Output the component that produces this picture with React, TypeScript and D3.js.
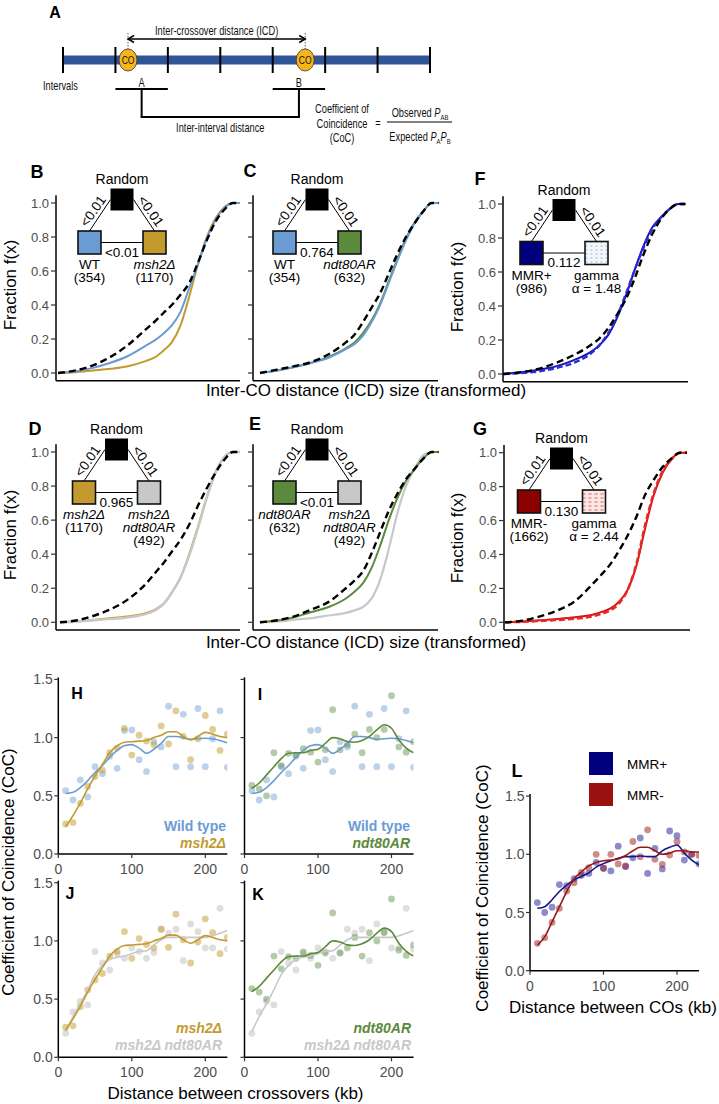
import React from 'react';
import * as d3 from 'd3';

const FONT = "'Liberation Sans', Arial, Helvetica, sans-serif";
const W = 719;
const H = 1104;

// ---------- Panel A schematic ----------
const intervalBounds = [0, 1, 2, 3, 4, 5, 6, 7];
const coPositions = [1.24, 4.62];
const intervalPairs = [
  { label: 'A', from: 1, to: 2 },
  { label: 'B', from: 4, to: 5 },
];

// ---------- CDF panels (B-G) ----------
const cdfX = [0, 10, 20, 30, 40, 50, 55, 60, 65, 70, 75, 80, 85, 90, 95, 100, 104];
const cdfTicks = [0, 0.2, 0.4, 0.6, 0.8, 1.0];

const randomB = [0, 0.015, 0.045, 0.095, 0.165, 0.255, 0.3, 0.35, 0.4, 0.46, 0.53, 0.65, 0.78, 0.89, 0.96, 1, 1];
const wtB = [0, 0.01, 0.03, 0.06, 0.1, 0.16, 0.19, 0.23, 0.28, 0.36, 0.5, 0.64, 0.79, 0.9, 0.97, 1, 1];
const msh2B = [0, 0.005, 0.015, 0.025, 0.04, 0.07, 0.09, 0.13, 0.18, 0.28, 0.45, 0.64, 0.8, 0.91, 0.975, 1, 1];

const randomC = [0, 0.02, 0.04, 0.065, 0.11, 0.18, 0.225, 0.3, 0.385, 0.47, 0.585, 0.7, 0.8, 0.88, 0.95, 1, 1];
const wtC = [0, 0.015, 0.035, 0.06, 0.09, 0.14, 0.17, 0.22, 0.3, 0.4, 0.53, 0.66, 0.78, 0.88, 0.95, 1, 1];
const ndtC = [0, 0.015, 0.035, 0.06, 0.095, 0.145, 0.18, 0.235, 0.31, 0.41, 0.54, 0.67, 0.79, 0.885, 0.95, 1, 1];

const randomF = [0, 0.01, 0.03, 0.065, 0.11, 0.17, 0.21, 0.27, 0.35, 0.44, 0.56, 0.7, 0.82, 0.91, 0.97, 1, 1];
const mmrPlusF = [0, 0.01, 0.025, 0.045, 0.08, 0.13, 0.17, 0.23, 0.33, 0.46, 0.61, 0.75, 0.86, 0.92, 0.97, 1, 1];
const gammaF = [0, 0.005, 0.015, 0.035, 0.065, 0.12, 0.17, 0.24, 0.34, 0.47, 0.61, 0.74, 0.85, 0.92, 0.97, 1, 1];

const randomD = [0, 0.012, 0.04, 0.08, 0.14, 0.23, 0.29, 0.35, 0.42, 0.49, 0.58, 0.69, 0.79, 0.88, 0.955, 1, 1];
const msh2D = [0, 0.006, 0.015, 0.025, 0.035, 0.055, 0.075, 0.11, 0.18, 0.27, 0.41, 0.57, 0.74, 0.885, 0.97, 1, 1];
const dblD = [0, 0.005, 0.012, 0.02, 0.03, 0.05, 0.07, 0.11, 0.18, 0.27, 0.4, 0.56, 0.735, 0.88, 0.97, 1, 1];

const randomE = [0, 0.012, 0.035, 0.075, 0.12, 0.2, 0.245, 0.3, 0.405, 0.53, 0.655, 0.755, 0.84, 0.9, 0.96, 1, 1];
const ndtE = [0, 0.01, 0.03, 0.06, 0.09, 0.14, 0.18, 0.23, 0.32, 0.45, 0.6, 0.73, 0.83, 0.9, 0.96, 1, 1];
const dblE = [0, 0.005, 0.015, 0.025, 0.04, 0.055, 0.07, 0.09, 0.14, 0.25, 0.43, 0.64, 0.8, 0.9, 0.98, 1, 1];

const randomG = [0, 0.01, 0.035, 0.07, 0.125, 0.225, 0.28, 0.34, 0.42, 0.51, 0.62, 0.75, 0.84, 0.915, 0.965, 1, 1];
const mmrMinusG = [0, 0.005, 0.012, 0.02, 0.03, 0.045, 0.06, 0.08, 0.12, 0.19, 0.33, 0.55, 0.75, 0.88, 0.96, 1, 1];
const gammaG = [0, 0.003, 0.008, 0.014, 0.022, 0.035, 0.05, 0.07, 0.11, 0.19, 0.34, 0.57, 0.76, 0.89, 0.96, 1, 1];

// ---------- CoC panels (H-L) ----------
const cocX = [10, 20, 30, 40, 50, 60, 70, 80, 90, 100, 110, 120, 130, 140, 150, 160, 170, 180, 190, 200, 210, 220, 230];
const cocYTicks = [0, 0.5, 1.0, 1.5];
const cocXTicks = [0, 100, 200];

const wtPts = [0.544, 0.464, 0.636, 0.49, 0.75, 0.69, 0.84, 0.736, 1.06, 1.066, 0.81, 0.708, 0.965, 0.92, 1.27, 0.75, 1.2, 0.75, 1.25, 0.75, 0.99, 1.23, 0.745];
const wtLine = [0.52, 0.53, 0.57, 0.63, 0.7, 0.76, 0.83, 0.89, 0.93, 0.94, 0.91, 0.865, 0.9, 0.95, 1.01, 1.01, 1.0, 0.985, 0.99, 0.995, 0.99, 0.975, 0.955];
const msh2Pts = [0.258, 0.27, 0.435, 0.58, 0.665, 0.72, 0.87, 0.91, 1.08, 0.85, 1.02, 0.97, 0.94, 1.1, 0.945, 1.23, 1.01, 0.81, 0.99, 1.19, 1.07, 0.89, 1.03];
const msh2Line = [0.235, 0.33, 0.44, 0.56, 0.67, 0.77, 0.87, 0.93, 0.96, 0.965, 0.97, 0.975, 1.0, 1.02, 1.05, 1.05, 1.01, 0.98, 1.01, 1.045, 1.03, 1.01, 1.0];
const ndtPts = [0.59, 0.56, 0.5, 0.87, 0.76, 0.865, 0.85, 0.905, 0.875, 0.79, 0.895, 1.24, 0.895, 0.94, 1.03, 0.87, 1.07, 1.0, 1.07, 1.36, 0.92, 0.875, 0.965];
const ndtLine = [0.565, 0.61, 0.68, 0.75, 0.82, 0.865, 0.87, 0.87, 0.89, 0.9, 0.95, 1.0, 0.99, 0.966, 0.96, 0.975, 1.01, 1.066, 1.11, 1.08, 0.98, 0.91, 0.87];
const dblPts = [0.206, 0.39, 0.48, 0.45, 0.908, 0.81, 0.75, 0.89, 0.85, 0.94, 0.91, 0.85, 0.9, 1.1, 1.066, 1.1, 0.83, 1.146, 1.08, 0.94, 0.94, 1.28, 0.93];
const dblLine = [0.22, 0.35, 0.46, 0.58, 0.71, 0.79, 0.84, 0.86, 0.87, 0.89, 0.91, 0.915, 0.965, 1.01, 1.03, 1.03, 1.03, 1.03, 1.03, 1.03, 1.045, 1.066, 1.09];
const mmrPlusPts = [0.585, 0.5, 0.545, 0.74, 0.73, 0.79, 0.82, 0.836, 0.93, 0.88, 0.857, 1.07, 0.894, 0.97, 1.14, 0.836, 1.05, 0.874, 1.2, 1.16, 0.95, 1.0, 0.917];
const mmrPlusLine = [0.536, 0.55, 0.61, 0.68, 0.736, 0.78, 0.81, 0.84, 0.89, 0.92, 0.945, 0.966, 0.98, 0.98, 0.986, 0.98, 0.98, 1.03, 1.06, 1.08, 1.01, 0.95, 0.91];
const mmrMinusPts = [0.235, 0.284, 0.415, 0.536, 0.685, 0.756, 0.845, 0.885, 1.0, 0.88, 1.0, 0.917, 0.9, 1.11, 0.98, 1.21, 0.957, 0.914, 0.994, 1.11, 1.02, 1.0, 0.99];
const mmrMinusLine = [0.22, 0.29, 0.42, 0.55, 0.68, 0.79, 0.85, 0.9, 0.93, 0.945, 0.95, 0.96, 0.99, 1.03, 1.06, 1.06, 1.03, 1.0, 1.01, 1.03, 1.03, 1.02, 1.02];

// ---------- colours ----------
const C_WT = '#6A9BD3';
const C_MSH = '#C39A2E';
const C_NDT = '#5B8A3C';
const C_DBL = '#C8C8C8';
const C_MMRP = '#00007F';
const C_MMRM = '#8B0000';
const TICK_GREY = '#4D4D4D';

function NarrowText({ x, y, anchor = 'middle', size = 12.5, children }: any) {
  return (
    <text transform={`translate(${x},${y}) scale(0.74,1)`} textAnchor={anchor} fontSize={size} fill="#111">
      {children}
    </text>
  );
}

function PanelA() {
  const xs = d3.scaleLinear().domain([0, 7]).range([63, 430]);
  const barY = 60;
  const arrowY = 39;
  const a0 = xs(coPositions[0]);
  const a1 = xs(coPositions[1]);
  const bracketY = 89;
  const joinY = 117;
  const mids = intervalPairs.map((p) => xs((p.from + p.to) / 2));
  return (
    <g>
      <text x={55} y={18} fontWeight="bold" fontSize={16} textAnchor="middle">A</text>
      <rect x={xs(0)} y={barY - 4.5} width={xs(7) - xs(0)} height={9} fill="#2F5597" />
      {intervalBounds.map((b) => (
        <line key={b} x1={xs(b)} x2={xs(b)} y1={47} y2={73} stroke="#000" strokeWidth={2} />
      ))}
      {coPositions.map((c, i) => (
        <g key={i}>
          <line x1={xs(c)} x2={xs(c)} y1={33} y2={49} stroke="#333" strokeWidth={0.8} strokeDasharray="1.5 1.5" />
          <ellipse cx={xs(c)} cy={barY} rx={9} ry={11} fill="#F7B519" stroke="#333" strokeWidth={0.8} />
          <NarrowText x={xs(c)} y={barY + 4} size={11.5}>CO</NarrowText>
        </g>
      ))}
      <line x1={a0} x2={a1} y1={arrowY} y2={arrowY} stroke="#000" strokeWidth={1.5} />
      <path d={`M${a0 + 6},${arrowY - 3.5} L${a0},${arrowY} L${a0 + 6},${arrowY + 3.5}`} fill="none" stroke="#000" strokeWidth={1.5} />
      <path d={`M${a1 - 6},${arrowY - 3.5} L${a1},${arrowY} L${a1 - 6},${arrowY + 3.5}`} fill="none" stroke="#000" strokeWidth={1.5} />
      <NarrowText x={(a0 + a1) / 2} y={35}>Inter-crossover distance (ICD)</NarrowText>
      <NarrowText x={43} y={90} anchor="start">Intervals</NarrowText>
      {intervalPairs.map((p, i) => (
        <g key={p.label}>
          <line x1={xs(p.from)} x2={xs(p.to)} y1={bracketY} y2={bracketY} stroke="#000" strokeWidth={2} />
          <line x1={mids[i]} x2={mids[i]} y1={bracketY} y2={joinY} stroke="#000" strokeWidth={2} />
          <NarrowText x={mids[i]} y={87}>{p.label}</NarrowText>
        </g>
      ))}
      <line x1={mids[0] - 1} x2={mids[1] + 1} y1={joinY} y2={joinY} stroke="#000" strokeWidth={2} />
      <NarrowText x={(mids[0] + mids[1]) / 2} y={132}>Inter-interval distance</NarrowText>
      <NarrowText x={342} y={113}>Coefficient of</NarrowText>
      <NarrowText x={342} y={127.5}>Coincidence</NarrowText>
      <NarrowText x={342} y={142}>(CoC)</NarrowText>
      <NarrowText x={378} y={127}>=</NarrowText>
      <NarrowText x={420} y={117}>
        Observed <tspan fontStyle="italic">P</tspan>
        <tspan fontSize={8} dy={3}>AB</tspan>
      </NarrowText>
      <line x1={387} x2={452} y1={122} y2={122} stroke="#000" strokeWidth={1} />
      <NarrowText x={420} y={141}>
        Expected <tspan fontStyle="italic">P</tspan>
        <tspan fontSize={8} dy={3}>A</tspan>
        <tspan fontStyle="italic" dy={-3}>P</tspan>
        <tspan fontSize={8} dy={3}>B</tspan>
      </NarrowText>
    </g>
  );
}

type Lbl = { t: string; i?: boolean };

function Inset({ bx, by, p, leftFill, rightFill, left, right }: any) {
  const s = 23;
  const lx = bx - 32.5;
  const rx = bx + 32.5;
  const ly = by + 43;
  const fs = 13.5;
  return (
    <g fontSize={fs}>
      <line x1={bx - s / 2} y1={by} x2={lx} y2={ly - s / 2} stroke="#000" strokeWidth={1} />
      <line x1={bx + s / 2} y1={by} x2={rx} y2={ly - s / 2} stroke="#000" strokeWidth={1} />
      <line x1={lx} y1={ly} x2={rx} y2={ly} stroke="#000" strokeWidth={1} />
      <rect x={bx - s / 2} y={by - s / 2 + 0.5} width={s} height={s - 1} fill="#000" />
      <rect x={lx - s / 2} y={ly - s / 2} width={s} height={s} fill={leftFill} stroke="#111" strokeWidth={1.6} />
      <rect x={rx - s / 2} y={ly - s / 2} width={s} height={s} fill={rightFill} stroke="#111" strokeWidth={1.6} />
      <text x={bx} y={by - 20} dy="0.35em" textAnchor="middle" fontSize={14}>Random</text>
      <text transform={`translate(${bx - 29},${by + 11.5}) rotate(-55)`} dy="0.35em" textAnchor="middle">&lt;0.01</text>
      <text transform={`translate(${bx + 29},${by + 11.5}) rotate(55)`} dy="0.35em" textAnchor="middle">&lt;0.01</text>
      <text x={bx} y={ly + 9.5} dy="0.35em" textAnchor="middle">{p}</text>
      {left.map((l: Lbl, i: number) => (
        <text key={i} x={lx} y={ly + 22 + 13 * i} dy="0.35em" textAnchor="middle" fontStyle={l.i ? 'italic' : 'normal'}>{l.t}</text>
      ))}
      {right.map((l: Lbl, i: number) => (
        <text key={i} x={rx} y={ly + 22 + 13 * i} dy="0.35em" textAnchor="middle" fontStyle={l.i ? 'italic' : 'normal'}>{l.t}</text>
      ))}
    </g>
  );
}

function CdfPanel({ cfg }: any) {
  const x = d3.scaleLinear().domain([0, 100]).range([cfg.cx0, cfg.cx1]);
  const y = d3.scaleLinear().domain([0, 1]).range([cfg.y0, cfg.y1]);
  const axisY = y(-0.045);
  const topY = y(1.045);
  const line = d3
    .line<number>()
    .x((_, i) => x(cdfX[i]))
    .y((v) => y(v))
    .curve(d3.curveMonotoneX);
  return (
    <g>
      {cfg.curves.map((c: any, i: number) => (
        <path key={i} d={line(c.values) || ''} fill="none" stroke={c.color} strokeWidth={c.width} strokeDasharray={c.dash || undefined} />
      ))}
      <line x1={cfg.ax} x2={cfg.ax} y1={topY} y2={axisY} stroke="#000" strokeWidth={1.5} />
      <line x1={cfg.ax} x2={cfg.axEnd} y1={axisY} y2={axisY} stroke="#000" strokeWidth={1.5} />
      {cdfTicks.map((t) => (
        <g key={t}>
          <line x1={cfg.ax - 5} x2={cfg.ax} y1={y(t)} y2={y(t)} stroke="#333" strokeWidth={1.2} />
          {cfg.tickLabels && (
            <text x={cfg.ax - 7} y={y(t)} dy="0.36em" textAnchor="end" fontSize={13} fill={TICK_GREY}>
              {t.toFixed(1)}
            </text>
          )}
        </g>
      ))}
      <text x={cfg.lx} y={cfg.ly} textAnchor="middle" fontWeight="bold" fontSize={18}>{cfg.label}</text>
      <Inset {...cfg.inset} />
    </g>
  );
}

function CocPanel({ cfg }: any) {
  const x = d3.scaleLinear().domain([0, 230]).range([cfg.x0, cfg.x0 + 230 * 0.735]);
  const y = d3.scaleLinear().domain([0, 1.5]).range([cfg.yb, cfg.yb - 1.5 * 116.4]);
  const line = d3
    .line<number>()
    .x((_, i) => x(cocX[i]))
    .y((v) => y(v))
    .curve(d3.curveMonotoneX);
  const clipId = `clip-${cfg.label}`;
  return (
    <g>
      <defs>
        <clipPath id={clipId}>
          <rect x={x(0)} y={y(1.5) - 8} width={x(230) - x(0)} height={y(0) - y(1.5) + 8} />
        </clipPath>
      </defs>
      <g clipPath={`url(#${clipId})`}>
        {cfg.series.map((s: any, si: number) =>
          s.pts.map((v: number, i: number) => (
            <circle key={`${si}-${i}`} cx={x(cocX[i])} cy={y(v)} r={3.4} fill={s.ptColor} fillOpacity={s.ptOpacity} />
          ))
        )}
        {cfg.series.map((s: any, si: number) => (
          <path key={si} d={line(s.line) || ''} fill="none" stroke={s.color} strokeWidth={1.6} />
        ))}
      </g>
      <line x1={x(0)} x2={x(0)} y1={y(1.5) - 2} y2={y(0)} stroke="#000" strokeWidth={1.5} />
      <line x1={x(0)} x2={x(230)} y1={y(0)} y2={y(0)} stroke="#000" strokeWidth={1.5} />
      {cocYTicks.map((t) => (
        <g key={t}>
          <line x1={x(0) - 4} x2={x(0)} y1={y(t)} y2={y(t)} stroke="#333" strokeWidth={1.2} />
          {cfg.yLabels && (
            <text x={x(0) - 5.5} y={y(t)} dy="0.36em" textAnchor="end" fontSize={14} fill={TICK_GREY}>
              {t.toFixed(1)}
            </text>
          )}
        </g>
      ))}
      {cocXTicks.map((t) => (
        <g key={t}>
          <line x1={x(t)} x2={x(t)} y1={y(0)} y2={y(0) + 4} stroke="#333" strokeWidth={1.2} />
          <text x={x(t)} y={y(0) + 15} dy="0.36em" textAnchor="middle" fontSize={14} fill={TICK_GREY}>
            {t}
          </text>
        </g>
      ))}
      <text x={cfg.lx} y={cfg.ly} textAnchor="middle" fontWeight="bold" fontSize={cfg.labelSize || 16}>{cfg.label}</text>
      {cfg.legend &&
        cfg.legend.map((l: any, i: number) => (
          <text key={i} x={cfg.legendX} y={cfg.legendY + 17 * i} textAnchor="end" fontWeight="bold" fontSize={14} fill={l.color} fontStyle={l.i ? 'italic' : 'normal'}>
            {l.t}
          </text>
        ))}
    </g>
  );
}

const dash = '7 4';

const cdfPanels = [
  {
    label: 'B', lx: 37, ly: 178, ax: 56, axEnd: 240, cx0: 58, cx1: 233, y0: 373, y1: 203, tickLabels: true,
    curves: [
      { values: msh2B, color: C_MSH, width: 2 },
      { values: wtB, color: C_WT, width: 2 },
      { values: randomB, color: '#000', width: 2.4, dash },
    ],
    inset: { bx: 122, by: 199.5, p: '<0.01', leftFill: C_WT, rightFill: C_MSH,
      left: [{ t: 'WT' }, { t: '(354)' }], right: [{ t: 'msh2Δ', i: true }, { t: '(1170)' }] },
  },
  {
    label: 'C', lx: 250, ly: 177, ax: 253, axEnd: 438, cx0: 260, cx1: 431.7, y0: 373, y1: 203, tickLabels: false,
    curves: [
      { values: ndtC, color: C_NDT, width: 2 },
      { values: wtC, color: C_WT, width: 2 },
      { values: randomC, color: '#000', width: 2.4, dash },
    ],
    inset: { bx: 317, by: 199.5, p: '0.764', leftFill: C_WT, rightFill: C_NDT,
      left: [{ t: 'WT' }, { t: '(354)' }], right: [{ t: 'ndt80AR', i: true }, { t: '(632)' }] },
  },
  {
    label: 'F', lx: 480, ly: 184.5, ax: 503, axEnd: 688, cx0: 503.3, cx1: 678.3, y0: 374, y1: 204, tickLabels: true,
    curves: [
      { values: mmrPlusF, color: '#1717A8', width: 2 },
      { values: gammaF, color: '#2B2BE0', width: 2.4, dash: '6 3' },
      { values: randomF, color: '#000', width: 2.4, dash },
    ],
    inset: { bx: 564, by: 210, p: '0.112', leftFill: C_MMRP, rightFill: 'url(#gammaBlue)',
      left: [{ t: 'MMR+' }, { t: '(986)' }], right: [{ t: 'gamma' }, { t: 'α = 1.48' }] },
  },
  {
    label: 'D', lx: 35, ly: 434.5, ax: 56, axEnd: 240, cx0: 60, cx1: 233, y0: 622.3, y1: 452, tickLabels: true,
    curves: [
      { values: msh2D, color: C_MSH, width: 2 },
      { values: dblD, color: C_DBL, width: 2.4 },
      { values: randomD, color: '#000', width: 2.4, dash },
    ],
    inset: { bx: 116.5, by: 449.5, p: '0.965', leftFill: C_MSH, rightFill: C_DBL,
      left: [{ t: 'msh2Δ', i: true }, { t: '(1170)' }], right: [{ t: 'msh2Δ', i: true }, { t: 'ndt80AR', i: true }, { t: '(492)' }] },
  },
  {
    label: 'E', lx: 255, ly: 429.5, ax: 253, axEnd: 438, cx0: 260, cx1: 431.7, y0: 622.3, y1: 452, tickLabels: false,
    curves: [
      { values: dblE, color: C_DBL, width: 2.2 },
      { values: ndtE, color: C_NDT, width: 2 },
      { values: randomE, color: '#000', width: 2.4, dash },
    ],
    inset: { bx: 317, by: 449.5, p: '<0.01', leftFill: C_NDT, rightFill: C_DBL,
      left: [{ t: 'ndt80AR', i: true }, { t: '(632)' }], right: [{ t: 'msh2Δ', i: true }, { t: 'ndt80AR', i: true }, { t: '(492)' }] },
  },
  {
    label: 'G', lx: 480, ly: 434.5, ax: 504, axEnd: 690, cx0: 505, cx1: 680, y0: 622.3, y1: 452.7, tickLabels: true,
    curves: [
      { values: mmrMinusG, color: '#D91414', width: 2 },
      { values: gammaG, color: '#E52A2A', width: 2.6, dash: '6 3' },
      { values: randomG, color: '#000', width: 2.4, dash },
    ],
    inset: { bx: 561.5, by: 458.5, p: '0.130', leftFill: C_MMRM, rightFill: 'url(#gammaRed)',
      left: [{ t: 'MMR-' }, { t: '(1662)' }], right: [{ t: 'gamma' }, { t: 'α = 2.44' }] },
  },
];

const cocPanels = [
  {
    label: 'H', lx: 77, ly: 698.5, x0: 58.3, yb: 854, yLabels: true,
    series: [
      { pts: wtPts, line: wtLine, ptColor: C_WT, ptOpacity: 0.45, color: C_WT },
      { pts: msh2Pts, line: msh2Line, ptColor: C_MSH, ptOpacity: 0.5, color: C_MSH },
    ],
    legendX: 226, legendY: 831, legend: [{ t: 'Wild type', color: C_WT }, { t: 'msh2Δ', color: C_MSH, i: true }],
  },
  {
    label: 'I', lx: 260, ly: 700, x0: 244.5, yb: 854, yLabels: false,
    series: [
      { pts: wtPts, line: wtLine, ptColor: C_WT, ptOpacity: 0.45, color: C_WT },
      { pts: ndtPts, line: ndtLine, ptColor: C_NDT, ptOpacity: 0.45, color: C_NDT },
    ],
    legendX: 410, legendY: 831, legend: [{ t: 'Wild type', color: C_WT }, { t: 'ndt80AR', color: C_NDT, i: true }],
  },
  {
    label: 'J', lx: 70, ly: 898.5, x0: 58.3, yb: 1057.3, yLabels: true,
    series: [
      { pts: dblPts, line: dblLine, ptColor: '#C8C8C8', ptOpacity: 0.6, color: C_DBL },
      { pts: msh2Pts, line: msh2Line, ptColor: C_MSH, ptOpacity: 0.5, color: C_MSH },
    ],
    legendX: 222, legendY: 1033, legend: [{ t: 'msh2Δ', color: C_MSH, i: true }, { t: 'msh2Δ ndt80AR', color: C_DBL, i: true }],
  },
  {
    label: 'K', lx: 258, ly: 900, x0: 244.5, yb: 1057.3, yLabels: false,
    series: [
      { pts: dblPts, line: dblLine, ptColor: '#C8C8C8', ptOpacity: 0.6, color: C_DBL },
      { pts: ndtPts, line: ndtLine, ptColor: C_NDT, ptOpacity: 0.45, color: C_NDT },
    ],
    legendX: 411, legendY: 1033, legend: [{ t: 'ndt80AR', color: C_NDT, i: true }, { t: 'msh2Δ ndt80AR', color: C_DBL, i: true }],
  },
  {
    label: 'L', lx: 517, ly: 777, labelSize: 18, x0: 530, yb: 970.7, yLabels: true,
    series: [
      { pts: mmrPlusPts, line: mmrPlusLine, ptColor: '#1A1A9A', ptOpacity: 0.5, color: '#16168A' },
      { pts: mmrMinusPts, line: mmrMinusLine, ptColor: '#9A1A1A', ptOpacity: 0.5, color: '#981818' },
    ],
  },
];

const lLegend = [
  { t: 'MMR+', color: C_MMRP },
  { t: 'MMR-', color: '#9B1111' },
];

export default function App() {
  return (
    <div style={{ position: 'absolute', left: 0, top: 0, width: W, height: H, background: '#fff' }}>
      <svg width={W} height={H} viewBox={`0 0 ${W} ${H}`} style={{ display: 'block' }} fontFamily={FONT}>
        <defs>
          <pattern id="gammaBlue" width="5" height="4" patternUnits="userSpaceOnUse">
            <rect width="5" height="4" fill="#F3F7FC" />
            <rect x="0.5" y="1.5" width="2" height="1" fill="#8DB4DD" />
          </pattern>
          <pattern id="gammaRed" width="6" height="4" patternUnits="userSpaceOnUse">
            <rect width="6" height="4" fill="#FBE6E6" />
            <rect x="0.5" y="1.5" width="3" height="1" fill="#E06060" />
          </pattern>
        </defs>
        <rect width={W} height={H} fill="#fff" />
        <PanelA />
        {cdfPanels.map((p) => (
          <CdfPanel key={p.label} cfg={p} />
        ))}
        <text transform="translate(9.5,285) rotate(-90)" dy="0.36em" textAnchor="middle" fontSize={17}>Fraction f(x)</text>
        <text transform="translate(457,287) rotate(-90)" dy="0.36em" textAnchor="middle" fontSize={17}>Fraction f(x)</text>
        <text transform="translate(9.5,535) rotate(-90)" dy="0.36em" textAnchor="middle" fontSize={17}>Fraction f(x)</text>
        <text transform="translate(457,538) rotate(-90)" dy="0.36em" textAnchor="middle" fontSize={17}>Fraction f(x)</text>
        <text x={366} y={396} textAnchor="middle" fontSize={17}>Inter-CO distance (ICD) size (transformed)</text>
        <text x={366} y={648} textAnchor="middle" fontSize={17}>Inter-CO distance (ICD) size (transformed)</text>

        {cocPanels.map((p) => (
          <CocPanel key={p.label} cfg={p} />
        ))}
        <text transform="translate(8,872) rotate(-90)" dy="0.36em" textAnchor="middle" fontSize={17}>Coefficient of Coincidence (CoC)</text>
        <text x={235.5} y={1099} textAnchor="middle" fontSize={17}>Distance between crossovers (kb)</text>
        <text transform="translate(482,888) rotate(-90)" dy="0.36em" textAnchor="middle" fontSize={17}>Coefficient of Coincidence (CoC)</text>
        <text x={613} y={1012.5} textAnchor="middle" fontSize={17}>Distance between COs (kb)</text>
        {lLegend.map((l, i) => (
          <g key={l.t}>
            <rect x={589} y={752 + 31 * i} width={24} height={23} fill={l.color} />
            <text x={627} y={764 + 31 * i} dy="0.36em" fontSize={13.5}>{l.t}</text>
          </g>
        ))}
      </svg>
    </div>
  );
}
